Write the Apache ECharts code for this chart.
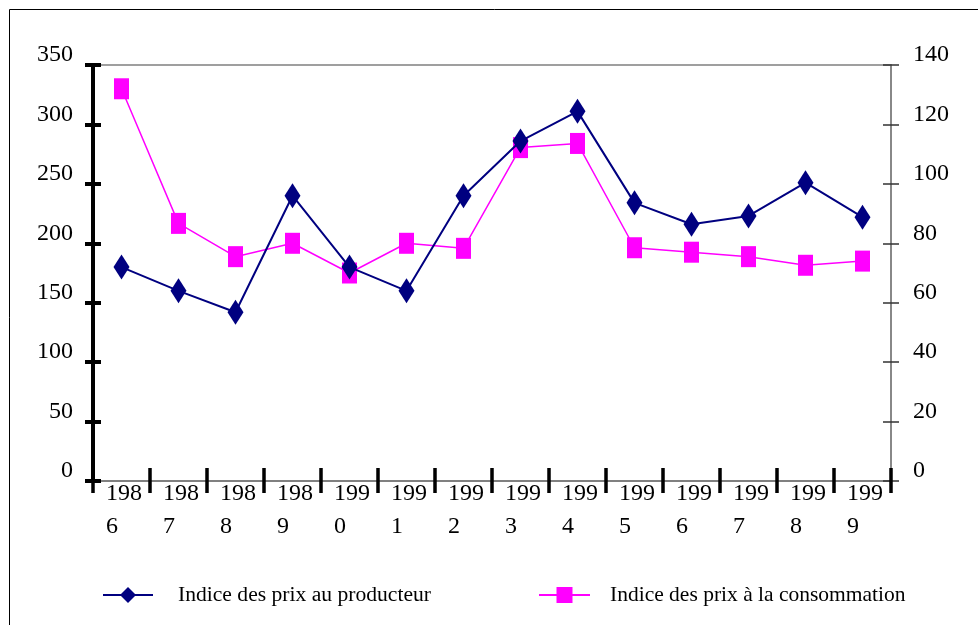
<!DOCTYPE html>
<html>
<head>
<meta charset="utf-8">
<script src="https://cdn.jsdelivr.net/npm/echarts@6/dist/echarts.min.js"></script>
<style>
  html, body { margin: 0; padding: 0; background: #fff; }
  #chart { width: 978px; height: 625px; }
</style>
</head>
<body>
<div id="chart"></div>
<script>
// Years on the category axis
const years = ['1986', '1987', '1988', '1989', '1990', '1991', '1992',
               '1993', '1994', '1995', '1996', '1997', '1998', '1999'];

// Producer price index (left axis)
const producerIndex = [180, 160, 142, 240, 180, 160, 240, 286, 311, 234, 216, 223, 251, 222];

// Consumer price index (right axis)
const consumerIndex = [132, 86.7, 75.5, 80, 70, 80, 78.3, 112.2, 113.6, 78.5, 77, 75.5, 72.6, 74];

const producerName = 'Indice des prix au producteur';
const consumerName = 'Indice des prix à la consommation';

const leftTicks = { min: 0, max: 350, interval: 50 };
const rightTicks = { min: 0, max: 140, interval: 20 };

const FONT = '"Liberation Serif", "Times New Roman", serif';
const NAVY = '#000080';
const MAGENTA = '#FF00FF';
const GREY = '#808080';

const chart = echarts.init(document.getElementById('chart'), null, { renderer: 'canvas' });

const baseX = {
  type: 'category',
  data: years,
  position: 'bottom',
  boundaryGap: true,
  splitLine: { show: false }
};

const option = {
  backgroundColor: '#ffffff',
  animation: false,
  grid: {
    left: 93, right: 87, top: 65, bottom: 144,
    show: true, borderColor: GREY, borderWidth: 1.5, backgroundColor: 'transparent'
  },
  graphic: [{
    type: 'rect',
    shape: { x: 9.5, y: 9.5, width: 1000, height: 700 },
    style: { fill: 'none', stroke: '#000', lineWidth: 1 },
    silent: true,
    z: -1
  }],
  legend: [
    {
      data: [producerName],
      left: 102, top: 584, padding: 0,
      itemWidth: 50, itemHeight: 20, itemGap: 0,
      textStyle: { fontFamily: FONT, fontSize: 21.6, color: '#000', padding: [0, 0, 0, 20] }
    },
    {
      data: [consumerName],
      left: 538, top: 584, padding: 0,
      itemWidth: 51, itemHeight: 20, itemGap: 0,
      textStyle: { fontFamily: FONT, fontSize: 21.5, color: '#000', padding: [0, 0, 0, 15] }
    }
  ],
  xAxis: [
    Object.assign({}, baseX, {
      axisLine: { show: true, lineStyle: { color: GREY, width: 2 } },
      axisTick: { show: true, interval: 0, inside: false, length: 12, lineStyle: { color: '#000', width: 3.5 } },
      axisLabel: {
        interval: 0,
        margin: -4,
        formatter: function (v) { return '{a|' + v.slice(0, 3) + '}\n{a|' + v.slice(3) + '}'; },
        rich: {
          a: { fontFamily: FONT, fontSize: 24, color: '#000', width: 37, padding: [0, 0, 0, 6], align: 'left', lineHeight: 33 }
        }
      }
    }),
    Object.assign({}, baseX, {
      axisLine: { show: false },
      axisTick: { show: true, interval: 0, inside: true, length: 13, lineStyle: { color: '#000', width: 3.5 } },
      axisLabel: { show: false }
    })
  ],
  yAxis: [
    {
      type: 'value', position: 'left',
      min: leftTicks.min, max: leftTicks.max, interval: leftTicks.interval,
      axisLine: { show: true, lineStyle: { color: '#000', width: 4 } },
      axisTick: { show: true, inside: false, length: 8, lineStyle: { color: '#000', width: 4 } },
      axisLabel: { margin: 20, fontFamily: FONT, fontSize: 24, color: '#000', verticalAlign: 'bottom', lineHeight: 20 },
      splitLine: { show: false }
    },
    {
      type: 'value', position: 'right',
      min: rightTicks.min, max: rightTicks.max, interval: rightTicks.interval,
      axisLine: { show: true, lineStyle: { color: GREY, width: 1.5 } },
      axisTick: { show: true, inside: false, length: 8, lineStyle: { color: '#333', width: 1.5 } },
      axisLabel: { margin: 22, fontFamily: FONT, fontSize: 24, color: '#000', verticalAlign: 'bottom', lineHeight: 20 },
      splitLine: { show: false }
    },
    {
      type: 'value', position: 'left',
      min: leftTicks.min, max: leftTicks.max, interval: leftTicks.interval,
      axisLine: { show: false },
      axisTick: { show: true, inside: true, length: 8, lineStyle: { color: '#000', width: 4 } },
      axisLabel: { show: false },
      splitLine: { show: false }
    },
    {
      type: 'value', position: 'right',
      min: rightTicks.min, max: rightTicks.max, interval: rightTicks.interval,
      axisLine: { show: false },
      axisTick: { show: true, inside: true, length: 8, lineStyle: { color: '#333', width: 1.5 } },
      axisLabel: { show: false },
      splitLine: { show: false }
    }
  ],
  series: [
    {
      name: producerName,
      type: 'line',
      xAxisIndex: 0, yAxisIndex: 0,
      data: producerIndex,
      symbol: 'diamond',
      symbolSize: [16, 25],
      showAllSymbol: true,
      lineStyle: { color: NAVY, width: 2 },
      itemStyle: { color: NAVY },
      z: 4
    },
    {
      name: consumerName,
      type: 'line',
      xAxisIndex: 0, yAxisIndex: 1,
      data: consumerIndex,
      symbol: 'rect',
      symbolSize: [15, 21],
      showAllSymbol: true,
      lineStyle: { color: MAGENTA, width: 1.5 },
      itemStyle: { color: MAGENTA },
      z: 3
    }
  ]
};

chart.setOption(option);
</script>
</body>
</html>
